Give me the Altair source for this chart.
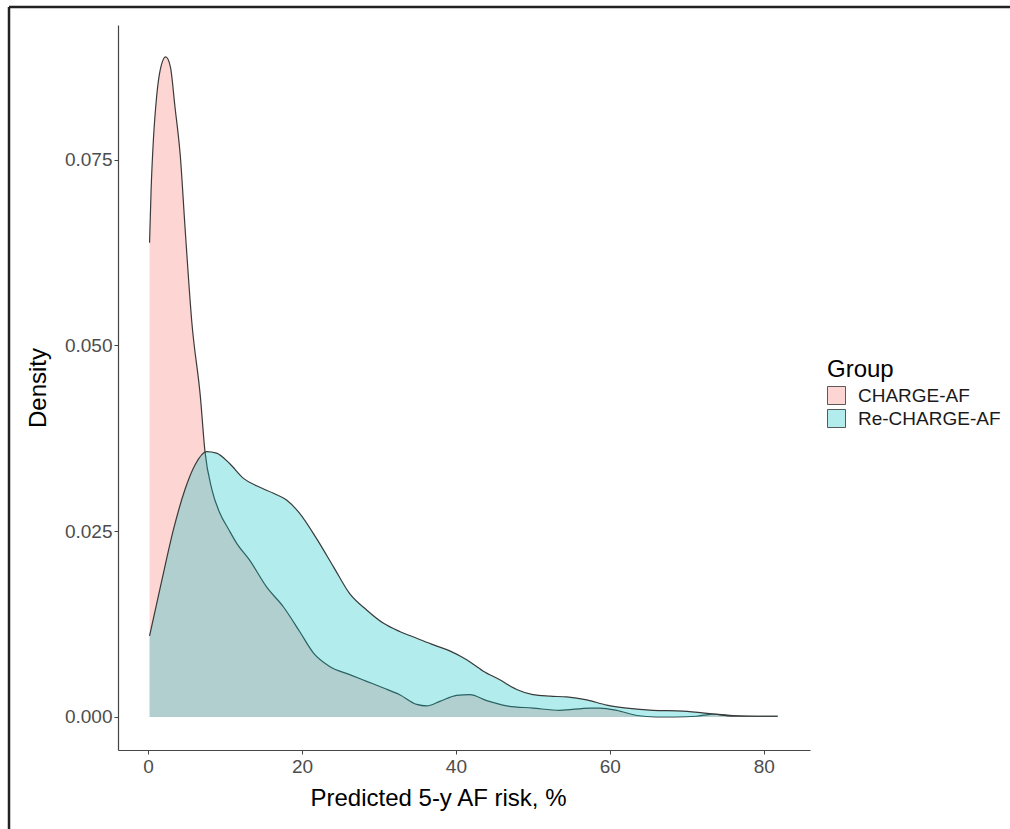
import altair as alt
import pandas as pd

groups = ["CHARGE-AF", "Re-CHARGE-AF"]
line_colors = ["#F8766D", "#00BFC4"]
legend_fill = ["#FDD6D3", "#B3ECED"]

x_ticks = [0, 20, 40, 60, 80]
y_ticks = [0.0, 0.025, 0.05, 0.075]

charge_x = [0.2, 0.4, 0.7, 1.0, 1.5, 2.3, 2.9, 3.5, 4.2, 4.8, 5.7, 6.8, 7.4, 8.3, 9.3,
            10.5, 11.5, 13.2, 15.4, 17.6, 19.7, 21.5, 23.6, 26.2, 28.4, 30.6, 32.7,
            34.9, 36.2, 37.9, 40.1, 41.8, 44.0, 46.6, 50.0, 53.5, 57.4, 58.7, 60.9,
            63.5, 66.0, 68.5, 71.2, 73.5, 76.0, 79.0, 81.8]
charge_y = [0.0638, 0.0709, 0.0777, 0.0821, 0.0866, 0.0888, 0.0875, 0.0821, 0.0754,
            0.0660, 0.0530, 0.0431, 0.0357, 0.0306, 0.0275, 0.0252, 0.0234, 0.0211,
            0.0175, 0.0148, 0.0115, 0.0086, 0.0068, 0.0057, 0.0048, 0.0039, 0.0030,
            0.0017, 0.0015, 0.0021, 0.0029, 0.0030, 0.0022, 0.0015, 0.0012, 0.0009,
            0.0012, 0.0012, 0.0009, 0.0002, 0.0000, 0.0000, 0.0001, 0.0004, 0.0002,
            0.0001, 0.0001]

recharge_x = [0.2, 1.8, 3.3, 4.8, 6.1, 7.6, 8.9, 10.6, 12.4, 14.1, 16.3, 18.0, 19.7,
              21.9, 24.1, 26.2, 28.4, 30.6, 32.7, 34.9, 37.1, 39.2, 41.4, 43.5, 45.7,
              47.9, 50.0, 52.2, 54.4, 57.0, 59.6, 62.2, 65.6, 69.5, 73.4, 76.0, 79.0,
              81.8]
recharge_y = [0.0109, 0.0184, 0.0252, 0.0306, 0.0339, 0.0357, 0.0355, 0.0341, 0.0321,
              0.0311, 0.0301, 0.0292, 0.0274, 0.0240, 0.0202, 0.0166, 0.0144, 0.0126,
              0.0115, 0.0106, 0.0097, 0.0089, 0.0077, 0.0062, 0.0050, 0.0037, 0.0030,
              0.0028, 0.0027, 0.0023, 0.0016, 0.0012, 0.0009, 0.0008, 0.0004, 0.0001,
              0.0001, 0.0001]

df = pd.concat([
    pd.DataFrame({"x": charge_x, "density": charge_y, "group": groups[0]}),
    pd.DataFrame({"x": recharge_x, "density": recharge_y, "group": groups[1]}),
], ignore_index=True)

FONT = "Liberation Sans"

x_enc = alt.X("x:Q", scale=alt.Scale(domain=[-3.9, 86], nice=False, zero=False),
              axis=alt.Axis(values=x_ticks, title="Predicted 5-y AF risk, %", format="d",
                            grid=False, titleX=320))
y_enc = alt.Y("density:Q", scale=alt.Scale(domain=[-0.00444, 0.0931], nice=False, zero=False),
              axis=alt.Axis(values=y_ticks, title="Density", format=".3f", grid=False))

layers = []
for g, col in zip(groups, line_colors):
    base = alt.Chart(df).transform_filter(alt.datum.group == g)
    area = base.mark_area(color=col, opacity=0.3, interpolate="monotone").encode(
        x=x_enc, y=y_enc, y2=alt.datum(0))
    line = base.mark_line(color="#3a3a3a", strokeWidth=1.2, interpolate="monotone").encode(
        x="x:Q", y="density:Q")
    layers += [area, line]

legend_layer = alt.Chart(df).mark_square(size=324, filled=True, stroke="#333333",
                                         strokeWidth=0.8, opacity=1).encode(
    fill=alt.Fill("group:N", scale=alt.Scale(domain=groups, range=legend_fill),
                  legend=alt.Legend(title="Group", orient="none", legendX=709, legendY=333,
                                    symbolType="square", symbolSize=324,
                                    symbolStrokeColor="#333333", symbolStrokeWidth=0.8,
                                    symbolOpacity=1, rowPadding=0, labelOffset=12,
                                    titleFontSize=24, titleFont=FONT, titleFontWeight="normal",
                                    titleColor="#000000", titlePadding=4,
                                    labelFontSize=19, labelFont=FONT, labelColor="#1a1a1a"))
).transform_filter("datum.x < -1000")

border_df = pd.DataFrame({"a": [0]})
top_border = alt.Chart(border_df).mark_rule(color="#222222", strokeWidth=2.5).encode(
    x=alt.value(-109), x2=alt.value(900), y=alt.value(-18))
left_border = alt.Chart(border_df).mark_rule(color="#222222", strokeWidth=2.5).encode(
    x=alt.value(-109), y=alt.value(-18), y2=alt.value(820))

chart = alt.layer(*layers, legend_layer, top_border, left_border).properties(
    width=692, height=725,
    padding={"left": 118, "top": 25, "right": 200, "bottom": 79},
    autosize=alt.AutoSizeParams(type="none"),
    background="white",
).configure_view(strokeWidth=0).configure_axis(
    domainColor="#444444", domainWidth=1.2, tickColor="#444444", tickSize=4,
    labelFont=FONT, labelFontSize=19, labelColor="#4D4D4D",
    titleFont=FONT, titleFontSize=24, titleFontWeight="normal", titleColor="#000000",
).configure_axisX(labelPadding=3, titlePadding=10).configure_axisY(
    labelPadding=2, titlePadding=14)

chart.save("out.html", embed_options={"renderer": "svg", "actions": False})
